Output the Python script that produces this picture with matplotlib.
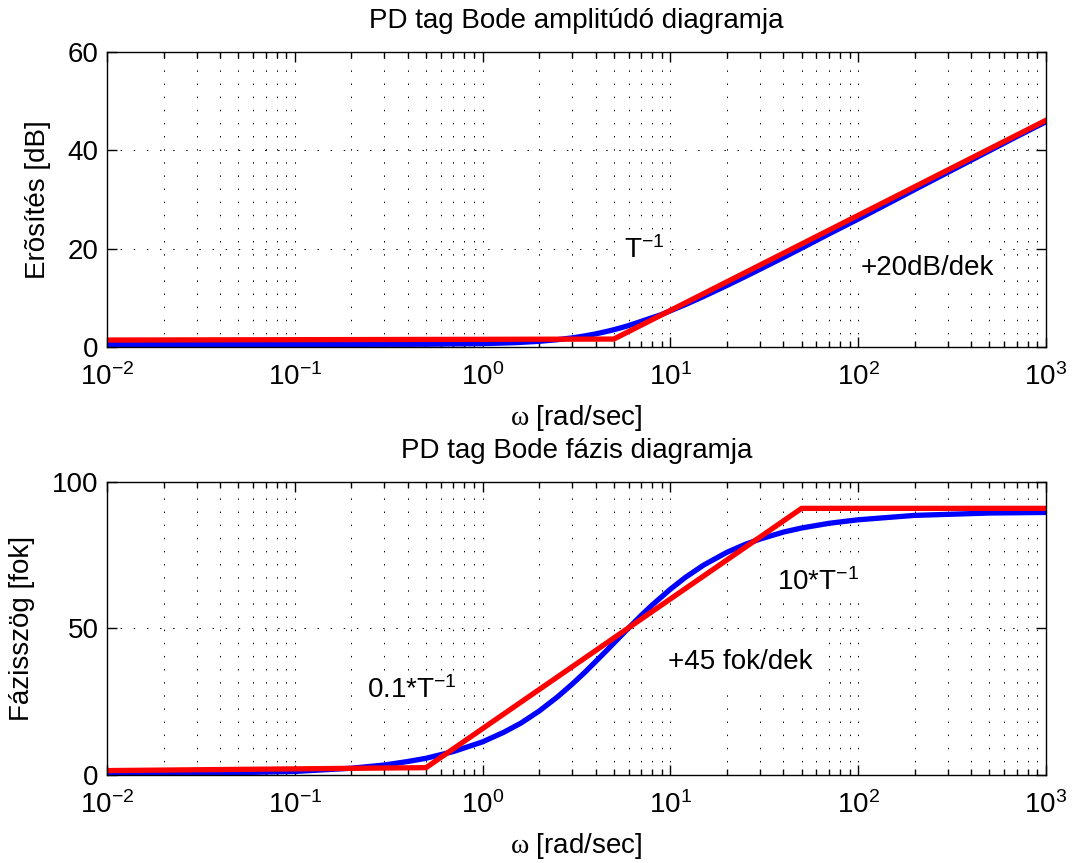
import numpy as np
import matplotlib
matplotlib.use('Agg')
import matplotlib.pyplot as plt
from matplotlib.ticker import NullFormatter

plt.rcParams['font.family'] = 'Liberation Sans'
plt.rcParams['mathtext.fontset'] = 'custom'
plt.rcParams['mathtext.rm'] = 'Liberation Serif'
plt.rcParams['mathtext.it'] = 'Liberation Sans:italic'

# amplitude diagram
w_amp = [0.01, 0.1, 0.5, 1, 1.5, 2, 2.5, 3, 3.5, 4, 4.5, 5, 5.5, 6, 7, 8, 9,
         10, 12, 15, 20, 25, 30, 40, 50, 70, 100, 150, 200, 300, 500, 700, 1000]
amp_exact = [0.5, 0.5, 0.55, 0.67, 0.87, 1.14, 1.47, 1.84, 2.24, 2.65, 3.08,
             3.5, 3.93, 4.35, 5.2, 5.95, 6.6, 7.35, 8.6, 10.25, 12.5, 14.3,
             15.8, 18.2, 20.1, 23.0, 26.0, 29.5, 32.0, 35.5, 39.9, 42.8, 45.8]
w_amp_asym = [0.01, 5, 1000]
amp_asym = [1.4, 1.6, 46.1]

# phase diagram
w_ph = [0.01, 0.05, 0.1, 0.2, 0.3, 0.4, 0.5, 0.7, 1, 1.3, 1.6, 2, 2.5, 3, 3.5,
        4, 4.5, 5, 6, 7, 8, 10, 12, 15, 20, 25, 30, 40, 50, 70, 100, 200, 500,
        1000]
ph_exact = [0.5, 0.8, 1.2, 2.3, 3.4, 4.6, 5.7, 8.0, 11.3, 14.6, 17.7, 21.8,
            26.6, 31.0, 35.0, 38.7, 42.0, 45.0, 50.2, 54.5, 58.0, 63.4, 67.4,
            71.6, 76.0, 78.7, 80.5, 82.9, 84.3, 85.9, 87.1, 88.6, 89.4, 89.6]
w_ph_asym = [0.01, 0.5, 50, 1000]
ph_asym = [1.5, 2.5, 91, 91]

fs = 20
grid_ls = (0, (1.5, 12))

fig = plt.figure(figsize=(10.72, 8.63), dpi=100)
ax1 = fig.add_axes([0.0998, 0.598, 0.8759, 0.3418])
ax2 = fig.add_axes([0.0998, 0.102, 0.8759, 0.3395])

for ax in (ax1, ax2):
    ax.set_xscale('log')
    ax.set_xlim(1e-2, 1e3)
    ax.grid(True, which='both', axis='x', color='k', linestyle=grid_ls, lw=0.7)
    ax.grid(True, which='major', axis='y', color='k', linestyle=grid_ls, lw=0.7)
    ax.set_axisbelow(True)
    ax.tick_params(which='both', direction='in', top=True, right=True,
                   labelsize=fs, width=1)
    ax.tick_params(which='major', length=7)
    ax.tick_params(which='minor', length=4)
    ax.tick_params(axis='x', pad=12)
    ax.tick_params(axis='y', pad=6)
    ax.xaxis.set_minor_formatter(NullFormatter())
    for s in ax.spines.values():
        s.set_linewidth(1)
    ax.set_xlabel(r'$\mathrm{\omega}$ [rad/sec]', fontsize=fs, labelpad=8)

ax1.plot(w_amp, amp_exact, color='#0000ff', lw=3.8)
ax1.plot(w_amp_asym, amp_asym, color='#ff0000', lw=3.8)
ax1.set_ylim(0, 60)
ax1.set_yticks([0, 20, 40, 60])
ax1.set_ylabel('Erõsítés [dB]', fontsize=fs, labelpad=12)
ax1.set_title('PD tag Bode amplitúdó diagramja', fontsize=fs, pad=17)
box = dict(facecolor='white', edgecolor='none', pad=4)
ax1.text(7.3, 19.7, r'T$^{\mathregular{-1}}$', fontsize=fs, ha='center',
         va='center', bbox=box)
ax1.text(235, 16.1, '+20dB/dek', fontsize=fs, ha='center', va='center',
         bbox=box)

ax2.plot(w_ph, ph_exact, color='#0000ff', lw=3.8)
ax2.plot(w_ph_asym, ph_asym, color='#ff0000', lw=3.8)
ax2.set_ylim(0, 100)
ax2.set_yticks([0, 50, 100])
ax2.set_ylabel('Fázisszög [fok]', fontsize=fs, labelpad=12)
ax2.set_title('PD tag Bode fázis diagramja', fontsize=fs, pad=17)
ax2.text(61, 65.9, r'10*T$^{\mathregular{-1}}$', fontsize=fs, ha='center',
         va='center', bbox=box)
ax2.text(23.5, 38.6, '+45 fok/dek', fontsize=fs, ha='center', va='center',
         bbox=dict(facecolor='white', edgecolor='none', pad=12))
ax2.text(0.42, 29.0, r'0.1*T$^{\mathregular{-1}}$', fontsize=fs, ha='center',
         va='center', bbox=box)

fig.savefig('out.png', dpi=100)
